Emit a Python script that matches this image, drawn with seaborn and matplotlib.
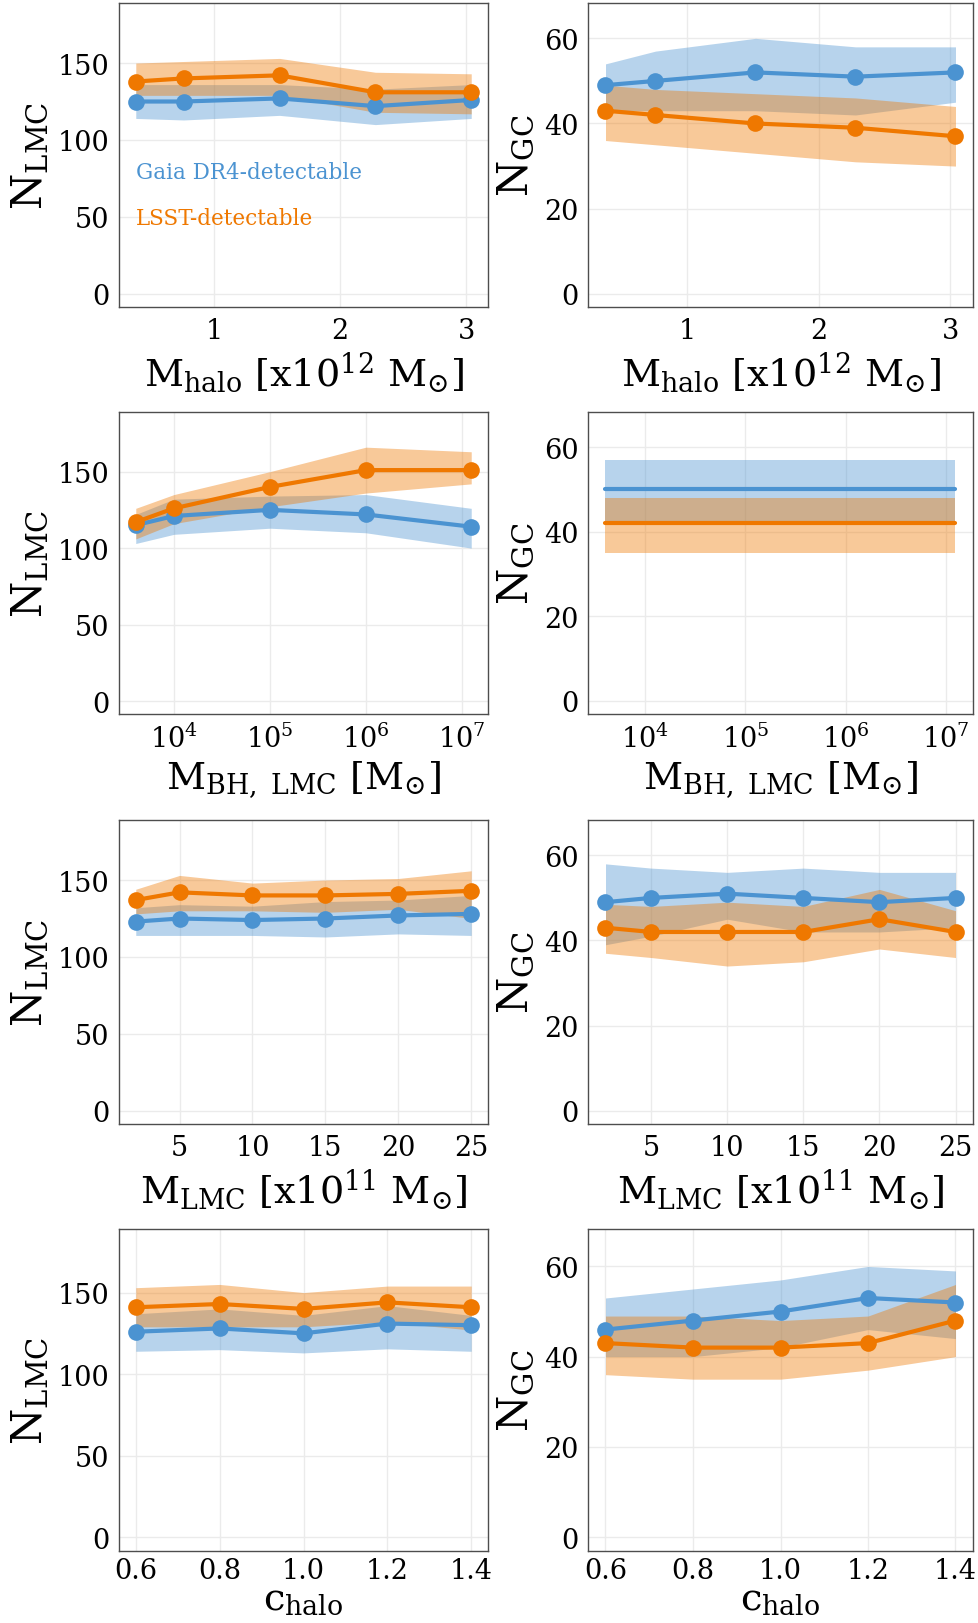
import matplotlib
matplotlib.use("Agg")
import matplotlib.pyplot as plt
import seaborn as sns
import pandas as pd

# colours
BLUE = "#4b93d1"
ORANGE = "#ef7800"

# --- row 1: halo mass ---
mhalo = [0.38, 0.76, 1.52, 2.28, 3.04]
lmc_mhalo_gaia = [125, 125, 127, 122, 126]
lmc_mhalo_gaia_lo = [114, 113, 116, 110, 114]
lmc_mhalo_gaia_hi = [136, 136, 136, 133, 136]
lmc_mhalo_lsst = [138, 140, 142, 131, 131]
lmc_mhalo_lsst_lo = [129, 129, 129, 118, 117]
lmc_mhalo_lsst_hi = [150, 151, 153, 144, 143]

gc_mhalo_gaia = [49, 50, 52, 51, 52]
gc_mhalo_gaia_lo = [43, 43, 43, 42, 45]
gc_mhalo_gaia_hi = [54, 57, 60, 58, 58]
gc_mhalo_lsst = [43, 42, 40, 39, 37]
gc_mhalo_lsst_lo = [36, 35, 33, 31, 30]
gc_mhalo_lsst_hi = [49, 48, 47, 46, 44]

# --- row 2: LMC black hole mass ---
mbh = [4e3, 1e4, 1e5, 1e6, 1.25e7]
lmc_mbh_gaia = [115, 121, 125, 122, 114]
lmc_mbh_gaia_lo = [103, 109, 113, 110, 100]
lmc_mbh_gaia_hi = [122, 132, 134, 135, 126]
lmc_mbh_lsst = [117, 126, 140, 151, 151]
lmc_mbh_lsst_lo = [106, 116, 127, 136, 142]
lmc_mbh_lsst_hi = [126, 135, 150, 166, 163]

gc_mbh_gaia = [50, 50, 50, 50, 50]
gc_mbh_gaia_lo = [42, 42, 42, 42, 42]
gc_mbh_gaia_hi = [57, 57, 57, 57, 57]
gc_mbh_lsst = [42, 42, 42, 42, 42]
gc_mbh_lsst_lo = [35, 35, 35, 35, 35]
gc_mbh_lsst_hi = [48, 48, 48, 48, 48]

# --- row 3: LMC mass ---
mlmc = [2, 5, 10, 15, 20, 25]
lmc_mlmc_gaia = [123, 125, 124, 125, 127, 128]
lmc_mlmc_gaia_lo = [114, 114, 114, 113, 115, 114]
lmc_mlmc_gaia_hi = [132, 134, 133, 136, 137, 140]
lmc_mlmc_lsst = [137, 142, 140, 140, 141, 143]
lmc_mlmc_lsst_lo = [128, 130, 130, 129, 131, 125]
lmc_mlmc_lsst_hi = [144, 153, 148, 150, 151, 156]

gc_mlmc_gaia = [49, 50, 51, 50, 49, 50]
gc_mlmc_gaia_lo = [39, 41, 45, 42, 42, 43]
gc_mlmc_gaia_hi = [58, 57, 56, 57, 56, 56]
gc_mlmc_lsst = [43, 42, 42, 42, 45, 42]
gc_mlmc_lsst_lo = [37, 36, 34, 35, 38, 36]
gc_mlmc_lsst_hi = [48.5, 48, 49, 48, 52, 47]

# --- row 4: halo concentration ---
chalo = [0.6, 0.8, 1.0, 1.2, 1.4]
lmc_chalo_gaia = [126, 128, 125, 131, 130]
lmc_chalo_gaia_lo = [114, 115, 113, 115.5, 114]
lmc_chalo_gaia_hi = [137, 140, 136, 142, 136]
lmc_chalo_lsst = [141, 143, 140, 144, 141]
lmc_chalo_lsst_lo = [129, 129, 129, 132, 127]
lmc_chalo_lsst_hi = [153, 155, 150, 154, 154]

gc_chalo_gaia = [46, 48, 50, 53, 52]
gc_chalo_gaia_lo = [40, 40, 42, 46, 44]
gc_chalo_gaia_hi = [53, 55, 57, 60, 59]
gc_chalo_lsst = [43, 42, 42, 43, 48]
gc_chalo_lsst_lo = [36, 35, 35, 37, 40]
gc_chalo_lsst_hi = [49, 49, 48, 49, 56]

sns.set_style("whitegrid", {"axes.edgecolor": "0.25", "grid.color": "0.92"})
plt.rcParams["font.family"] = ["DejaVu Serif"]
plt.rcParams["mathtext.fontset"] = "dejavuserif"
plt.rcParams["text.color"] = "black"
plt.rcParams["axes.labelcolor"] = "black"
plt.rcParams["xtick.color"] = "black"
plt.rcParams["ytick.color"] = "black"

fig = plt.figure(figsize=(9.79, 16.24), dpi=100)

rows = [
    (mhalo, r"M$_{\rm halo}$ [x10$^{12}$ M$_{\odot}$]",
     (lmc_mhalo_gaia, lmc_mhalo_gaia_lo, lmc_mhalo_gaia_hi, lmc_mhalo_lsst, lmc_mhalo_lsst_lo, lmc_mhalo_lsst_hi),
     (gc_mhalo_gaia, gc_mhalo_gaia_lo, gc_mhalo_gaia_hi, gc_mhalo_lsst, gc_mhalo_lsst_lo, gc_mhalo_lsst_hi)),
    (mbh, r"M$_{\rm BH,\ LMC}$ [M$_{\odot}$]",
     (lmc_mbh_gaia, lmc_mbh_gaia_lo, lmc_mbh_gaia_hi, lmc_mbh_lsst, lmc_mbh_lsst_lo, lmc_mbh_lsst_hi),
     (gc_mbh_gaia, gc_mbh_gaia_lo, gc_mbh_gaia_hi, gc_mbh_lsst, gc_mbh_lsst_lo, gc_mbh_lsst_hi)),
    (mlmc, r"M$_{\rm LMC}$ [x10$^{11}$ M$_{\odot}$]",
     (lmc_mlmc_gaia, lmc_mlmc_gaia_lo, lmc_mlmc_gaia_hi, lmc_mlmc_lsst, lmc_mlmc_lsst_lo, lmc_mlmc_lsst_hi),
     (gc_mlmc_gaia, gc_mlmc_gaia_lo, gc_mlmc_gaia_hi, gc_mlmc_lsst, gc_mlmc_lsst_lo, gc_mlmc_lsst_hi)),
    (chalo, r"c$_{\rm halo}$",
     (lmc_chalo_gaia, lmc_chalo_gaia_lo, lmc_chalo_gaia_hi, lmc_chalo_lsst, lmc_chalo_lsst_lo, lmc_chalo_lsst_hi),
     (gc_chalo_gaia, gc_chalo_gaia_lo, gc_chalo_gaia_hi, gc_chalo_lsst, gc_chalo_lsst_lo, gc_chalo_lsst_hi)),
]

# axes boxes in pixels (top, bottom) per row
row_px = [(4, 308), (413, 715), (821, 1125), (1230, 1552)]
col_px = [(119, 488), (588, 973)]
W, H = 979, 1624


def draw(ax, x, series, marker):
    g, glo, ghi, l, llo, lhi = series
    ax.fill_between(x, glo, ghi, color=BLUE, alpha=0.4, linewidth=0)
    df = pd.DataFrame({"x": x, "y": g})
    sns.lineplot(data=df, x="x", y="y", ax=ax, color=BLUE, marker=marker,
                 linewidth=3, markersize=12, markeredgewidth=0)
    ax.fill_between(x, llo, lhi, color=ORANGE, alpha=0.4, linewidth=0)
    df = pd.DataFrame({"x": x, "y": l})
    sns.lineplot(data=df, x="x", y="y", ax=ax, color=ORANGE, marker=marker,
                 linewidth=3, markersize=12, markeredgewidth=0)


for r, (x, xlabel, lmc, gc) in enumerate(rows):
    top, bot = row_px[r]
    for c, series in enumerate([lmc, gc]):
        left, right = col_px[c]
        ax = fig.add_axes([left / W, 1 - bot / H, (right - left) / W, (bot - top) / H])
        if r == 1:
            ax.set_xscale("log")
            ax.set_xticks([1e4, 1e5, 1e6, 1e7])
            ax.minorticks_off()
        # the flat GC-vs-BH panel has no markers
        draw(ax, x, series, None if (r == 1 and c == 1) else "o")
        if c == 0:
            ax.set_ylim(-8.5, 189)
            ax.set_yticks([0, 50, 100, 150])
            ax.set_ylabel(r"N$_{\rm LMC}$", fontsize=30, labelpad=5)
        else:
            ax.set_ylim(-3.1, 68.3)
            ax.set_yticks([0, 20, 40, 60])
            ax.set_ylabel(r"N$_{\rm GC}$", fontsize=30, labelpad=5)
        ax.tick_params(labelsize=19.5)
        if r == 0:
            ax.set_xticks([1, 2, 3])
        elif r == 2:
            ax.set_xticks([5, 10, 15, 20, 25])
        elif r == 3:
            ax.set_xticks(chalo)
            ax.set_xticklabels(["0.6", "0.8", "1.0", "1.2", "1.4"])
            ax.tick_params(axis="x", pad=0.5)
        ax.set_xlabel(xlabel, fontsize=27.5, labelpad=(-2.5 if r == 3 else 4))
        ax.grid(True, color="0.92", linewidth=1)
        for s in ax.spines.values():
            s.set_color("0.3")
            s.set_linewidth(1)
        if r == 0 and c == 0:
            ax.text(0.045, 0.445, "Gaia DR4-detectable", color=BLUE, fontsize=15.5,
                    transform=ax.transAxes, va="center")
            ax.text(0.045, 0.293, "LSST-detectable", color=ORANGE, fontsize=15.5,
                    transform=ax.transAxes, va="center")

fig.savefig("out.png", dpi=100)
